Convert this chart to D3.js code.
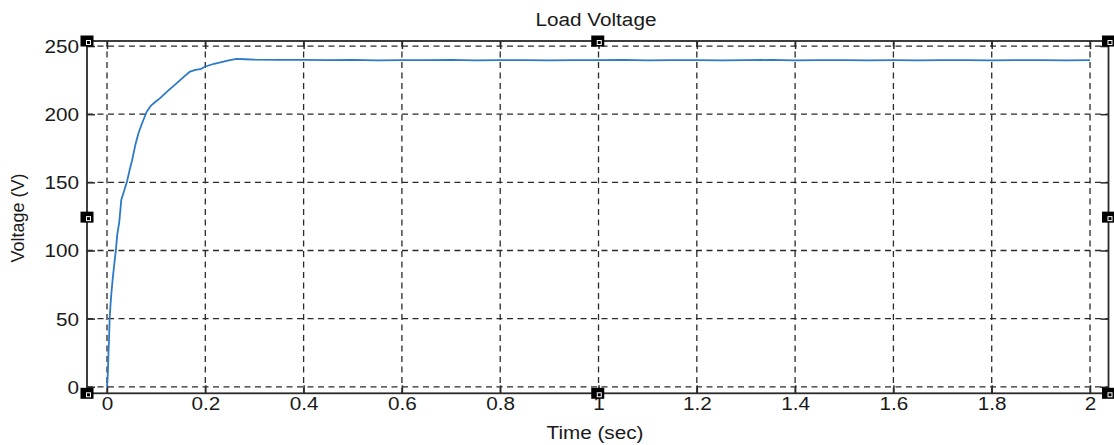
<!DOCTYPE html>
<html>
<head>
<meta charset="utf-8">
<script src="https://cdn.jsdelivr.net/npm/d3@7"></script>
<style>
  html, body { margin: 0; padding: 0; background: #fff; }
  text { font-family: "Liberation Sans", Arial, sans-serif; fill: #1a1a1a; }
</style>
</head>
<body>
<svg id="chart" width="1114" height="445"></svg>
<script>
// ---- data ----
const title = "Load Voltage";
const xLabel = "Time (sec)";
const yLabel = "Voltage (V)";
const xTicks = [0, 0.2, 0.4, 0.6, 0.8, 1, 1.2, 1.4, 1.6, 1.8, 2];
const yTicks = [0, 50, 100, 150, 200, 250];
const time = [0, 0.001, 0.002, 0.003, 0.004, 0.0055, 0.0075, 0.0095, 0.0115, 0.0136, 0.0157, 0.0177,
  0.021, 0.025, 0.029, 0.035, 0.041, 0.046, 0.051, 0.058, 0.064, 0.071, 0.081, 0.09, 0.1, 0.108,
  0.125, 0.142, 0.155, 0.169, 0.18, 0.19, 0.2, 0.218, 0.237, 0.25, 0.264, 0.28, 0.3, 0.35, 0.4,
  0.45, 0.5, 0.55, 0.6, 0.65, 0.7, 0.75, 0.8, 0.85, 0.9, 0.95, 1.0, 1.05, 1.1, 1.15, 1.2, 1.25,
  1.3, 1.35, 1.4, 1.45, 1.5, 1.55, 1.6, 1.65, 1.7, 1.75, 1.8, 1.85, 1.9, 1.95, 2.0];
const voltage = [0, 5, 12, 25, 34, 51, 62, 71, 79, 86, 93, 99,
  112, 121, 137, 144, 151, 159, 166, 178, 186, 193, 202, 206.5, 209.5, 211.8,
  217.5, 222.8, 227, 231.3, 232.5, 233, 235, 237, 238.6, 239.6, 240.6, 240.3, 240.0, 239.8, 239.9,
  239.6, 239.8, 239.5, 239.7, 239.6, 239.8, 239.5, 239.7, 239.6, 239.5, 239.7, 239.6, 239.8, 239.5,
  239.6, 239.7, 239.5, 239.6, 239.8, 239.5, 239.6, 239.7, 239.5, 239.6, 239.5, 239.7, 239.6,
  239.5, 239.7, 239.6, 239.5, 239.6];

// ---- layout ----
const svg = d3.select("#chart");
const L = 87, R = 1108.5, T = 41, B = 393.3;
const x = d3.scaleLinear().domain([-0.0407, 2.0376]).range([L, R]);
const y = d3.scaleLinear().domain([-4.77, 253.7]).range([B, T]);
const STRETCH = 1.15;

function stretch(sel) {
  sel.each(function () {
    const len = this.getComputedTextLength();
    d3.select(this).attr("textLength", len * STRETCH).attr("lengthAdjust", "spacingAndGlyphs");
  });
}

// grid
const grid = svg.append("g").attr("stroke", "#2a2a2a").attr("stroke-width", 1.3)
  .attr("stroke-dasharray", "6,4.5");
grid.selectAll("line.vx").data(xTicks).join("line")
  .attr("x1", d => x(d)).attr("x2", d => x(d)).attr("y1", T).attr("y2", B);
grid.selectAll("line.hy").data(yTicks).join("line")
  .attr("x1", L).attr("x2", R).attr("y1", d => y(d)).attr("y2", d => y(d));

// axes with inner ticks
const tickLen = 8;
const axB = svg.append("g").attr("transform", `translate(0,${B})`)
  .call(d3.axisBottom(x).tickValues(xTicks).tickSizeInner(-tickLen).tickSizeOuter(0).tickPadding(16)
    .tickFormat(d3.format("~g")));
const axT = svg.append("g").attr("transform", `translate(0,${T})`)
  .call(d3.axisTop(x).tickValues(xTicks).tickSizeInner(-tickLen).tickSizeOuter(0).tickFormat(""));
const axL = svg.append("g").attr("transform", `translate(${L},0)`)
  .call(d3.axisLeft(y).tickValues(yTicks).tickSizeInner(-tickLen).tickSizeOuter(0).tickPadding(8));
const axR = svg.append("g").attr("transform", `translate(${R},0)`)
  .call(d3.axisRight(y).tickValues(yTicks).tickSizeInner(-tickLen).tickSizeOuter(0).tickFormat(""));
[axB, axT, axL, axR].forEach(a => {
  a.select(".domain").remove();
  a.selectAll(".tick line").attr("stroke", "#2a2a2a").attr("stroke-width", 1.5);
  a.selectAll("text").attr("font-size", 18).attr("fill", "#1a1a1a")
    .attr("font-family", '"Liberation Sans", Arial, sans-serif');
});
axB.selectAll(".tick text").attr("dy", "0.71em").attr("y", 4);
axL.selectAll(".tick text").attr("dy", "0.36em");
stretch(axB.selectAll(".tick text"));
stretch(axL.selectAll(".tick text"));

// data line
const pts = time.map((t, i) => [t, voltage[i]]);
svg.append("path").datum(pts)
  .attr("fill", "none").attr("stroke", "#2c7ac6").attr("stroke-width", 1.8)
  .attr("stroke-linejoin", "round")
  .attr("d", d3.line().x(d => x(d[0])).y(d => y(d[1])));

// frame
svg.append("rect").attr("x", L).attr("y", T).attr("width", R - L).attr("height", B - T)
  .attr("fill", "none").attr("stroke", "#2a2a2a").attr("stroke-width", 1.8);

// selection handles
const hx = [L, (L + R) / 2, R], hy = [T, (T + B) / 2, B];
const handles = [];
hx.forEach(a => hy.forEach(b => { if (!(a === hx[1] && b === hy[1])) handles.push([a, b]); }));
const hg = svg.append("g");
handles.forEach(([a, b]) => {
  hg.append("rect").attr("x", a - 6.5).attr("y", b - 5.5).attr("width", 13).attr("height", 11).attr("fill", "#000");
  hg.append("rect").attr("x", a - 0.5).attr("y", b - 0.5).attr("width", 4).attr("height", 4)
    .attr("fill", "none").attr("stroke", "#fff").attr("stroke-width", 1);
});

// texts
const tt = svg.append("text").attr("x", 596).attr("y", 26).attr("text-anchor", "middle")
  .attr("font-size", 18).text(title);
stretch(tt);
const xl = svg.append("text").attr("x", 595).attr("y", 439).attr("text-anchor", "middle")
  .attr("font-size", 18).text(xLabel);
stretch(xl);
svg.append("text").attr("transform", "translate(24,218) rotate(-90)").attr("text-anchor", "middle")
  .attr("font-size", 18).text(yLabel);
</script>
</body>
</html>
